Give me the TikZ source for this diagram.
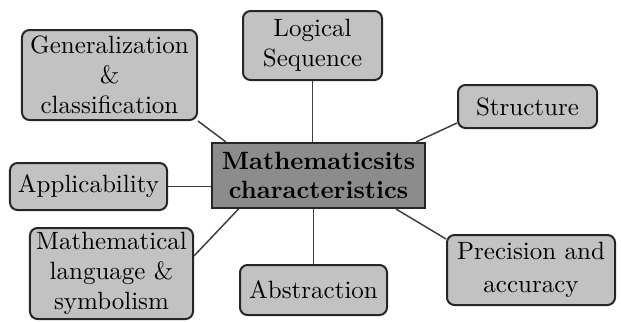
\documentclass[tikz,border=0pt]{standalone}

\begin{document}
\begin{tikzpicture}[
  x=0.4pt, y=-0.4pt,
  font=\fontsize{10}{12}\selectfont,
  trait/.style={draw=black!85, line width=0.8pt, rounded corners=3pt, fill=black!24,
                align=center, inner sep=0pt},
  core/.style={draw=black!85, line width=0.8pt, fill=black!45, align=center,
               inner sep=0pt, font=\fontsize{10}{11.6}\selectfont\bfseries},
  link/.style={draw=black!75, line width=0.6pt}
]
\useasboundingbox (0,0) rectangle (621,321);

% ---------------- centre ----------------
\node[core, minimum width=85.2pt, minimum height=26pt] (ctr) at (318.5,175.5)
  {Mathematicsits\\characteristics};

% ---------------- characteristics ----------------
\node[trait, minimum width=70pt, minimum height=36pt] (gen) at (109.5,75)
  {\fontsize{10}{9.6}\selectfont Generalization\\\&\\classification};
\node[trait, minimum width=55.6pt, minimum height=27.6pt] (logic) at (312.5,45.5)
  {Logical\\Sequence};
\node[trait, minimum width=55.6pt, minimum height=17.2pt] (struct) at (527.5,106.5)
  {Structure};
\node[trait, minimum width=62.8pt, minimum height=18.8pt] (appl) at (88.5,186.5)
  {Applicability};
\node[trait, minimum width=65.2pt, minimum height=36.4pt] (lang) at (111.5,273.5)
  {Mathematical\\language \&\\symbolism};
\node[trait, minimum width=58.8pt, minimum height=20pt] (abs) at (313.5,290)
  {Abstraction};
\node[trait, minimum width=67.2pt, minimum height=28pt] (prec) at (531,270)
  {Precision and\\[1.5pt]accuracy};

% ---------------- connectors ----------------
\draw[link] (gen.south east) -- ([xshift=6pt]ctr.north west);
\draw[link] (logic.south) -- (logic.south |- ctr.north);
\draw[link] ([yshift=2.4pt]struct.south west) -- ([xshift=-4pt]ctr.north east);
\draw[link] (appl.east) -- (ctr.west |- appl.east);
\draw[link] (lang.12) -- ([xshift=11pt]ctr.south west);
\draw[link] (abs.north) -- (abs.north |- ctr.south);
\draw[link] ([yshift=-2pt]prec.north west) -- ([xshift=-12pt]ctr.south east);

\end{tikzpicture}
\end{document}
